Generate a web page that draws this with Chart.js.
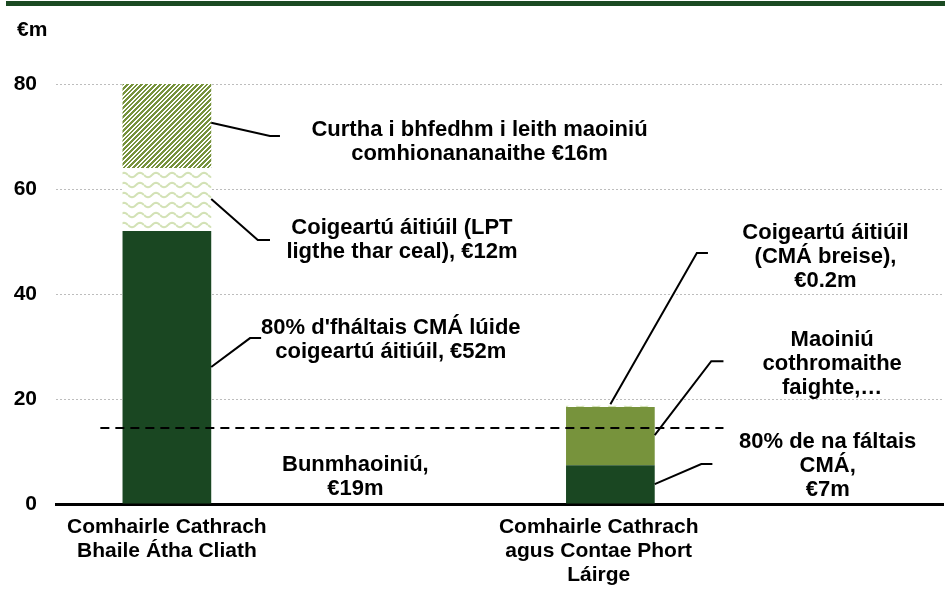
<!DOCTYPE html>
<html>
<head>
<meta charset="utf-8">
<script src="https://cdn.jsdelivr.net/npm/chart.js@4.4.1/dist/chart.umd.min.js"></script>
<style>
  html, body { margin: 0; padding: 0; background: #fff; }
  #wrap { position: relative; width: 945px; height: 590px; }
  #rule { position: absolute; left: 6px; top: 1px; width: 939px; height: 5px; background: #1b4a22; }
  #unit { position: absolute; left: 17px; top: 17px; font: bold 21px "Liberation Sans", Arial, sans-serif; color: #000; }
</style>
</head>
<body>
<div id="wrap">
  <canvas id="chart" width="945" height="590"></canvas>
  <div id="rule"></div>
  <div id="unit">€m</div>
</div>
<script>
(function() {
    'use strict';

    // categories (empty slots keep the bars where the original puts them)
    var categories = [
        ['Comhairle Cathrach', 'Bhaile Átha Cliath'],
        '',
        ['Comhairle Cathrach    ', 'agus Contae Phort    ', 'Láirge    '],
        ''
    ];

    // series values, €m
    var cmaReceipts = [52, null, 7.4, null];
    var lptAdjustment = [12, null, null, null];
    var equalisationApplied = [16, null, null, null];
    var equalisationReceived = [null, null, 11.1, null];
    var cmaAdjustment = [null, null, 0.2, null];
    var baselineFunding = 14.5;

    var yTicks = [0, 20, 40, 60, 80];

    // annotation texts: x in category units, y in €m
    var notes = [
        { lines: ['Curtha i bhfedhm i leith maoiniú', 'comhionananaithe €16m'], x: 1.41, y: [71.2, 66.7] },
        { lines: ['Coigeartú áitiúil (LPT', 'ligthe thar ceal), €12m'], x: 1.06, y: [52.6, 48.0] },
        { lines: ["80% d'fháltais CMÁ lúide", 'coigeartú áitiúil, €52m'], x: 1.01, y: [33.5, 29.0] },
        { lines: ['Bunmhaoiniú,', '€19m'], x: 0.85, y: [7.4, 2.9] },
        { lines: ['Coigeartú áitiúil', '(CMÁ breise),', '€0.2m'], x: 2.97, y: [51.6, 47.0, 42.5] },
        { lines: ['Maoiniú', 'cothromaithe', 'faighte,…'], x: 3.0, y: [31.2, 26.7, 22.1] },
        { lines: ['80% de na fáltais', 'CMÁ,', '€7m'], x: 2.98, y: [11.8, 7.2, 2.7] }
    ];

    // leader lines, same units
    var leaders = [
        [[0.20, 72.6], [0.465, 70.1], [0.51, 70.1]],
        [[0.20, 58.1], [0.41, 50.3], [0.465, 50.3]],
        [[0.20, 26.1], [0.375, 31.6], [0.425, 31.6]],
        [[2.0, 19.0], [2.39, 47.8], [2.44, 47.8]],
        [[2.2, 13.1], [2.455, 27.2], [2.51, 27.2]],
        [[2.2, 3.8], [2.41, 7.6], [2.46, 7.6]]
    ];
    var baselineSpan = [-0.3, 2.51];

    var FONT = '"Liberation Sans", Arial, sans-serif';
    var darkGreen = '#1a4722';
    var olive = '#77933c';
    var paleGreen = '#d3e2b6';

    function hatchPattern() {
        var n = 14;
        var c = document.createElement('canvas');
        c.width = n; c.height = n;
        var g = c.getContext('2d');
        for (var y = 0; y < n; y++) {
            for (var x = 0; x < n; x++) {
                g.fillStyle = ((x + y) * 3 % n) < 8 ? olive : '#fff';
                g.fillRect(x, y, 1, 1);
            }
        }
        return g.createPattern(c, 'repeat');
    }

    function wavePattern() {
        var c = document.createElement('canvas');
        c.width = 16; c.height = 10;
        var g = c.getContext('2d');
        g.fillStyle = '#fff';
        g.fillRect(0, 0, 16, 10);
        g.strokeStyle = paleGreen;
        g.lineWidth = 2;
        g.beginPath();
        for (var i = 0; i <= 16; i++) {
            var yy = 5 + 2.2 * Math.sin(i / 16 * Math.PI * 2);
            if (i === 0) g.moveTo(i, yy); else g.lineTo(i, yy);
        }
        g.stroke();
        return g.createPattern(c, 'repeat');
    }

    var annotations = {
        id: 'annotations',
        afterDatasetsDraw: function(chart) {
            var ctx = chart.ctx;
            var xs = chart.scales.x, ys = chart.scales.y;
            ctx.save();

            // baseline funding dashed line
            ctx.strokeStyle = '#000';
            ctx.lineWidth = 2;
            ctx.setLineDash([9, 6]);
            ctx.beginPath();
            ctx.moveTo(xs.getPixelForValue(baselineSpan[0]), ys.getPixelForValue(baselineFunding));
            ctx.lineTo(xs.getPixelForValue(baselineSpan[1]), ys.getPixelForValue(baselineFunding));
            ctx.stroke();
            ctx.setLineDash([]);

            ctx.lineWidth = 2;
            leaders.forEach(function(pts) {
                ctx.beginPath();
                pts.forEach(function(p, i) {
                    var px = xs.getPixelForValue(p[0]), py = ys.getPixelForValue(p[1]);
                    if (i === 0) ctx.moveTo(px, py); else ctx.lineTo(px, py);
                });
                ctx.stroke();
            });

            ctx.fillStyle = '#000';
            ctx.font = 'bold 22px ' + FONT;
            ctx.textAlign = 'center';
            ctx.textBaseline = 'middle';
            notes.forEach(function(n) {
                var px = xs.getPixelForValue(n.x);
                n.lines.forEach(function(t, i) {
                    ctx.fillText(t, px, ys.getPixelForValue(n.y[i]));
                });
            });
            ctx.restore();
        }
    };

    var hatch = hatchPattern();
    var wave = wavePattern();

    new Chart(document.getElementById('chart'), {
        type: 'bar',
        data: {
            labels: categories,
            datasets: [
                { label: "80% d'fháltais CMÁ", data: cmaReceipts, backgroundColor: darkGreen },
                { label: 'Coigeartú áitiúil (LPT)', data: lptAdjustment, backgroundColor: wave },
                { label: 'Curtha i bhfedhm', data: equalisationApplied, backgroundColor: hatch },
                { label: 'Maoiniú cothromaithe faighte', data: equalisationReceived, backgroundColor: olive },
                { label: 'Coigeartú áitiúil (CMÁ breise)', data: cmaAdjustment, backgroundColor: wave }
            ]
        },
        options: {
            responsive: false,
            animation: false,
            datasets: { bar: { categoryPercentage: 1, barPercentage: 0.4, skipNull: true } },
            layout: { padding: { left: 0, right: 2, top: 84, bottom: 0 } },
            plugins: { legend: { display: false }, tooltip: { enabled: false } },
            scales: {
                x: {
                    stacked: true,
                    grid: { display: false, drawTicks: false },
                    border: { display: true, color: '#000', width: 3 },
                    ticks: {
                        color: '#000', padding: 11, maxRotation: 0, autoSkip: false,
                        font: { family: FONT, size: 21, weight: 'bold', lineHeight: 1.143 }
                    },
                    afterFit: function(s) { s.height = 86; }
                },
                y: {
                    stacked: true,
                    min: 0, max: 80,
                    afterBuildTicks: function(s) { s.ticks = yTicks.map(function(v) { return { value: v }; }); },
                    grid: { color: '#bdbdbd', lineWidth: 1, drawTicks: false },
                    border: { display: false, dash: [2, 2] },
                    ticks: {
                        color: '#000', padding: 19,
                        font: { family: FONT, size: 21, weight: 'bold' }
                    },
                    afterFit: function(s) { s.width = 56; }
                }
            }
        },
        plugins: [annotations]
    });
})();
</script>
</body>
</html>
